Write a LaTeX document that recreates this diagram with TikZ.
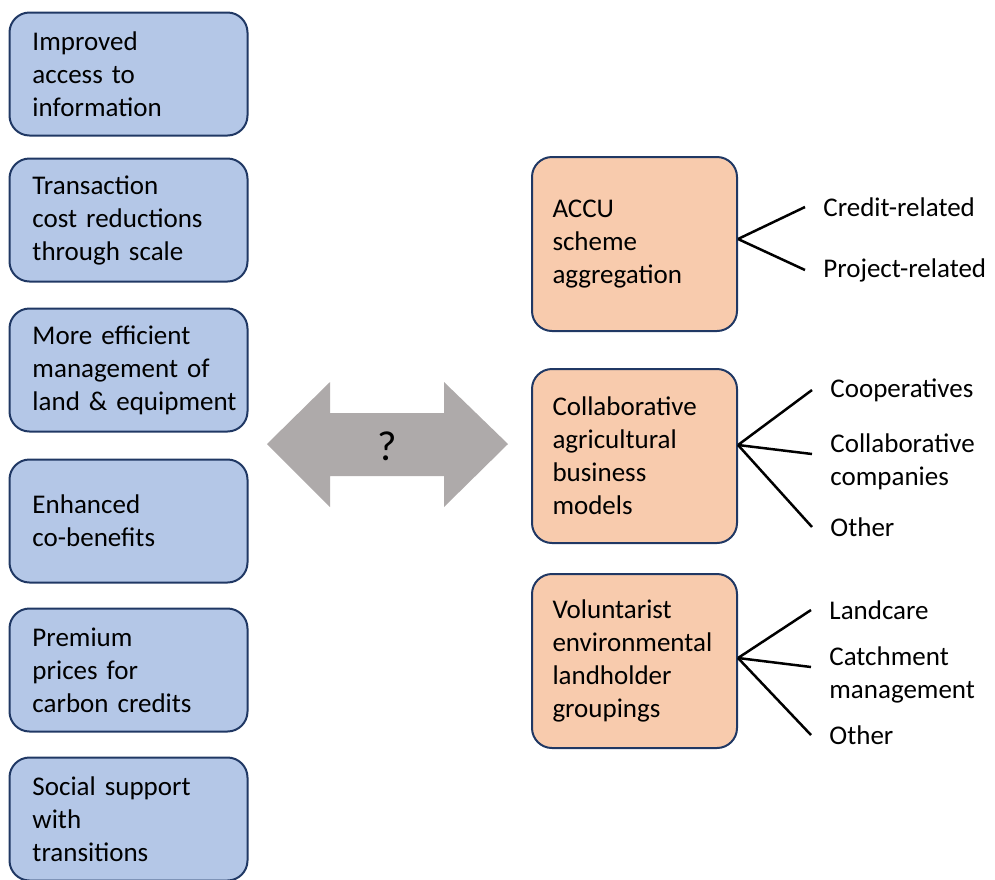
\documentclass[tikz,border=0pt]{standalone}
\usepackage{fontspec}
\setmainfont{Carlito}
\usetikzlibrary{positioning}

\definecolor{boxblue}{HTML}{B4C7E7}
\definecolor{boxpeach}{HTML}{F8CBAD}
\definecolor{boxline}{HTML}{203864}
\definecolor{arrowgrey}{HTML}{AEAAAA}

\tikzstyle{basebox} = [draw=boxline,line width=1pt,rounded corners=10pt,align=left,
  font=\fontsize{13.5}{16.5}\selectfont]
\tikzstyle{benefit} = [basebox,fill=boxblue,minimum width=118.5pt,minimum height=61.5pt,
  text width=96pt,inner xsep=11.5pt]
\tikzstyle{grouping} = [basebox,fill=boxpeach,minimum width=102.5pt,minimum height=87pt,
  text width=82pt,inner xsep=10pt]
\tikzstyle{kind} = [anchor=west,align=left,inner xsep=0pt,font=\fontsize{13.5}{16.5}\selectfont]
\tikzstyle{branch} = [draw,line width=1.25pt]

\begin{document}
\begin{tikzpicture}[x=0.5pt,y=-0.5pt]
      \useasboundingbox (0,0) rectangle (995,879);
      % benefits column
      \foreach \nodename/\y/\text in {
        info/74/{Improved\\access to\\information},
        cost/220/{Transaction\\cost reductions\\through scale},
        land/370/{More efficient\\management of\\\mbox{land \& equipment}},
        cobenefit/521/{Enhanced\\co-benefits},
        premium/670/{Premium\\prices for\\carbon credits},
        social/819/{Social support\\with\\transitions}}
      {
        \node[benefit] (\nodename) at (128.5,\y) {\text};
      };
      % two-way arrow
      \fill[arrowgrey] (267,444) -- (330,382) -- (330,413) -- (444,413) -- (444,382)
        -- (508,444) -- (444,507) -- (444,476) -- (330,476) -- (330,507) -- cycle;
      \node[font=\fontsize{21}{24}\selectfont] (query) at (387,446) {?};
      % aggregation models
      \foreach \nodename/\y/\text in {
        accu/244/{ACCU\\scheme\\aggregation},
        business/456/{Collaborative\\agricultural\\business\\models},
        volunteer/661/{Voluntarist\\environmental\\landholder\\groupings}}
      {
        \node[grouping] (\nodename) at (634.5,\y) {\text};
      };
      % sub-types
      \foreach \nodename/\x/\y/\text in {
        credit/823/207/{Credit-related},
        project/823/270/{Project-related},
        coop/830/390/{Cooperatives},
        company/830/462/{Collaborative\\companies},
        otherbus/830/527/{Other},
        landcare/829/610/{Landcare},
        catchment/829/675/{Catchment\\management},
        othervol/829/735/{Other}}
      {
        \node[kind] (\nodename) at (\x,\y) {\text};
      };
      %branches
      \coordinate (accufork) at ([yshift=2.5pt]accu.east);
      \coordinate (busfork) at ([yshift=5.5pt]business.east);
      \coordinate (volfork) at ([yshift=1.5pt]volunteer.east);
      \path
      \foreach \startnode/\endnode/\lift in {
        accufork/credit/0, accufork/project/0,
        busfork/coop/0, busfork/company/4, busfork/otherbus/0,
        volfork/landcare/0, volfork/catchment/4, volfork/othervol/0}
      {
        (\startnode) edge[branch] ([xshift=-9pt,yshift=\lift pt]\endnode.west)
      };
    \end{tikzpicture}
\end{document}
